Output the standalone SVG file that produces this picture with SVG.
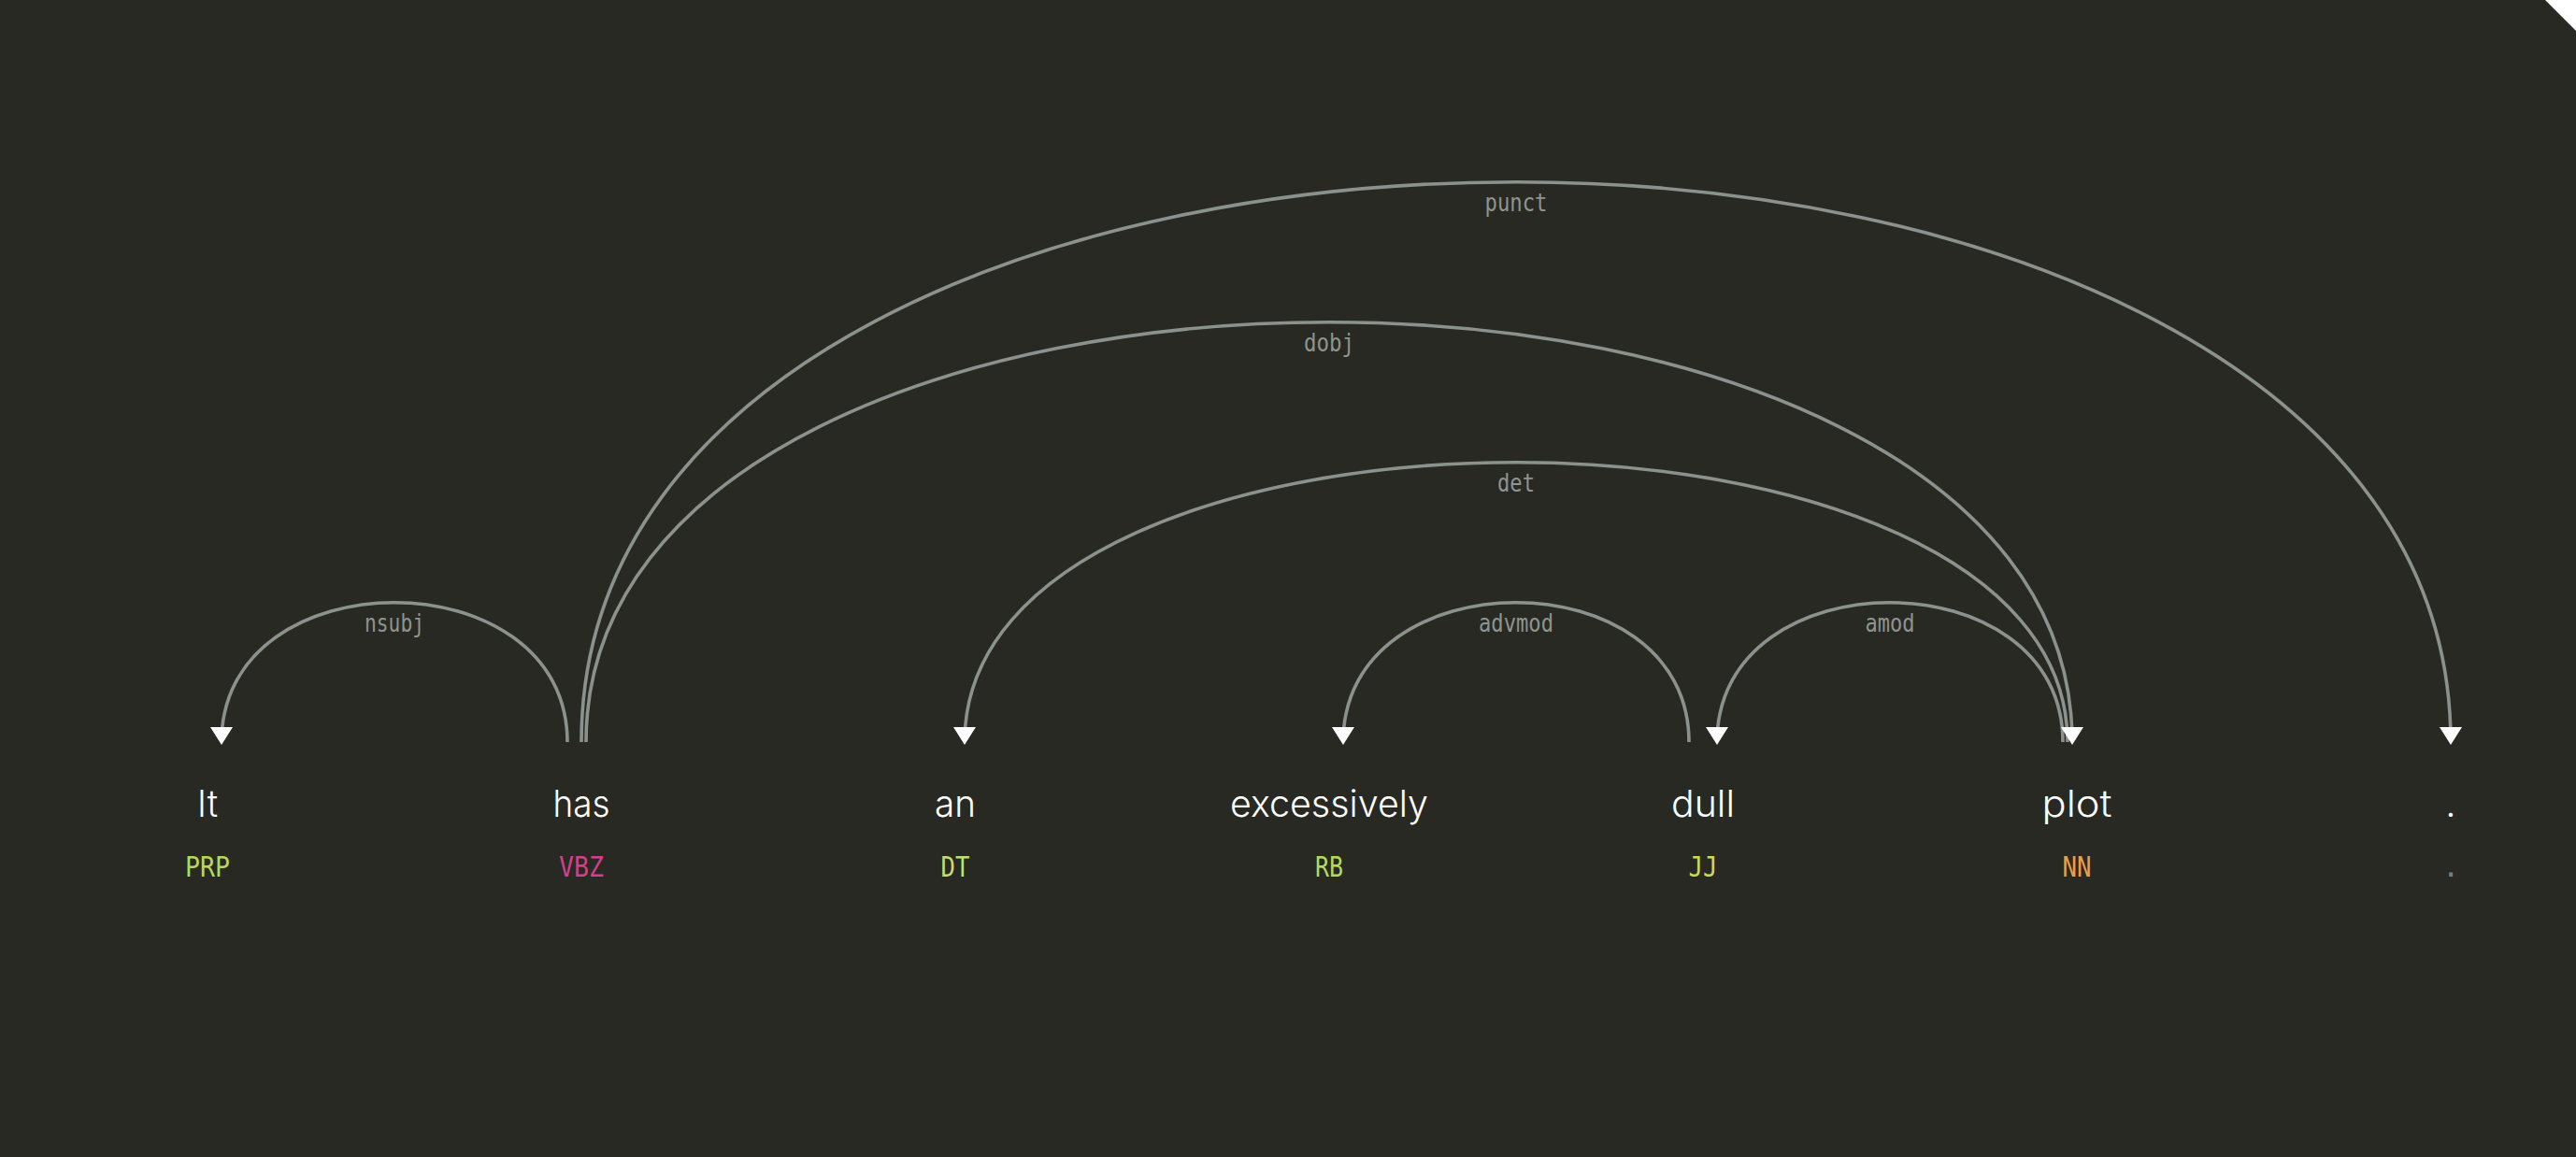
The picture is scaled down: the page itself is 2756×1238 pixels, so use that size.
<svg xmlns="http://www.w3.org/2000/svg" width="2756" height="1238" viewBox="0 0 2756 1238">
<style>
.word{font-family:Inter,"Liberation Sans",sans-serif;font-size:40px;font-weight:300;fill:#ffffff;text-anchor:middle}
.tag{font-family:"DejaVu Sans Mono","Liberation Mono",monospace;font-size:31px;text-anchor:middle}
.arc{fill:none;stroke:#8b928d;stroke-width:3.6}
.head{fill:#ffffff}
.lbl{font-family:"DejaVu Sans Mono","Liberation Mono",monospace;font-size:26px;fill:#8e948f;text-anchor:middle}
</style>
<rect x="0" y="0" width="2756" height="1238" fill="#282923"/>
<polygon points="2723,0 2756,0 2756,33" fill="#ffffff"/>
<g id="connectors">
  <g id="arc-nsubj">
    <path class="arc" d="M237,794 C237,595 607,595 607,794"/>
    <polygon class="head" points="237,797 225,778 249,778"/>
    <text class="lbl" x="422" y="676" textLength="64" lengthAdjust="spacingAndGlyphs">nsubj</text>
  </g>
  <g id="arc-det">
    <path class="arc" d="M1032,794 C1032,395 2212,395 2212,794"/>
    <polygon class="head" points="1032,797 1020,778 1044,778"/>
    <text class="lbl" x="1622" y="526" textLength="40" lengthAdjust="spacingAndGlyphs">det</text>
  </g>
  <g id="arc-advmod">
    <path class="arc" d="M1437,794 C1437,595 1807,595 1807,794"/>
    <polygon class="head" points="1437,797 1425,778 1449,778"/>
    <text class="lbl" x="1622" y="676" textLength="80" lengthAdjust="spacingAndGlyphs">advmod</text>
  </g>
  <g id="arc-amod">
    <path class="arc" d="M1837,794 C1837,595 2207,595 2207,794"/>
    <polygon class="head" points="1837,797 1825,778 1849,778"/>
    <text class="lbl" x="2022" y="676" textLength="53" lengthAdjust="spacingAndGlyphs">amod</text>
  </g>
  <g id="arc-dobj">
    <path class="arc" d="M627,794 C627,195 2217,195 2217,794"/>
    <polygon class="head" points="2217,797 2205,778 2229,778"/>
    <text class="lbl" x="1422" y="376" textLength="54" lengthAdjust="spacingAndGlyphs">dobj</text>
  </g>
  <g id="arc-punct">
    <path class="arc" d="M622,794 C622,-5 2622,-5 2622,794"/>
    <polygon class="head" points="2622,797 2610,778 2634,778"/>
    <text class="lbl" x="1622" y="226" textLength="67" lengthAdjust="spacingAndGlyphs">punct</text>
  </g>
</g>
<g id="token-0"><text class="word" x="222" y="874" textLength="22" lengthAdjust="spacingAndGlyphs">It</text><text class="tag" x="222" y="938" fill="#b8d65c" textLength="48" lengthAdjust="spacingAndGlyphs">PRP</text></g>
<g id="token-1"><text class="word" x="622" y="874" textLength="61" lengthAdjust="spacingAndGlyphs">has</text><text class="tag" x="622" y="938" fill="#cf4189" textLength="48" lengthAdjust="spacingAndGlyphs">VBZ</text></g>
<g id="token-2"><text class="word" x="1022" y="874" textLength="44" lengthAdjust="spacingAndGlyphs">an</text><text class="tag" x="1022" y="938" fill="#c2dd6f" textLength="31" lengthAdjust="spacingAndGlyphs">DT</text></g>
<g id="token-3"><text class="word" x="1422" y="874" textLength="212" lengthAdjust="spacingAndGlyphs">excessively</text><text class="tag" x="1422" y="938" fill="#b3da5e" textLength="30" lengthAdjust="spacingAndGlyphs">RB</text></g>
<g id="token-4"><text class="word" x="1822" y="874" textLength="68" lengthAdjust="spacingAndGlyphs">dull</text><text class="tag" x="1822" y="938" fill="#c9db55" textLength="31" lengthAdjust="spacingAndGlyphs">JJ</text></g>
<g id="token-5"><text class="word" x="2222" y="874" textLength="75" lengthAdjust="spacingAndGlyphs">plot</text><text class="tag" x="2222" y="938" fill="#e6a04a" textLength="31" lengthAdjust="spacingAndGlyphs">NN</text></g>
<g id="token-6"><text class="word" x="2622" y="874">.</text><text class="tag" x="2622" y="938" fill="#7c7f79">.</text></g>
</svg>
